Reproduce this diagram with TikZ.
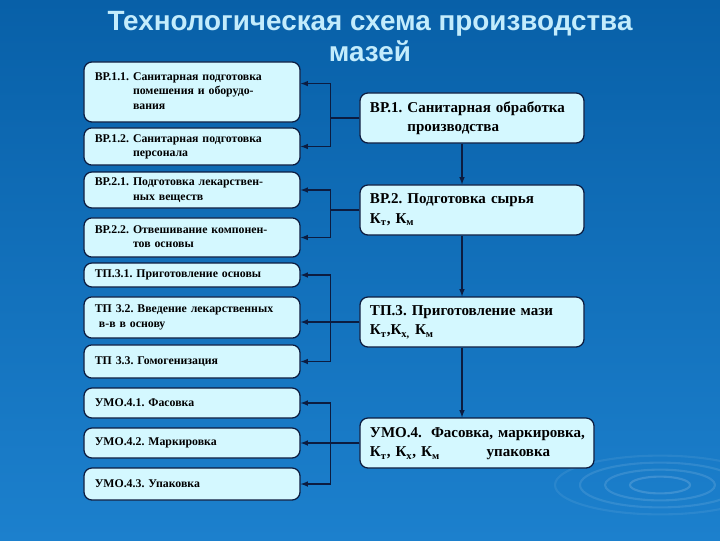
\documentclass[tikz,border=0pt]{standalone}
\usepackage{fontspec}
\setmainfont{Liberation Serif}[BoldFont={Liberation Serif Bold}]
\newfontfamily\titlefont{Liberation Sans}[BoldFont={Liberation Sans Bold}]
\usepackage{tikz}
\frenchspacing
\definecolor{bgtop}{RGB}{8,96,168}
\definecolor{bgbot}{RGB}{28,128,205}
\definecolor{boxfill}{RGB}{212,248,255}
\definecolor{boxline}{RGB}{12,28,64}
\definecolor{ttlcol}{RGB}{195,236,252}
\tikzstyle{lbox}=[draw=boxline,fill=boxfill,line width=0.9pt,rounded corners=0.2cm,text width=4.86cm,inner xsep=0.27cm,inner ysep=0pt,align=left,font=\bfseries\fontsize{8.4}{10.4}\selectfont]
\tikzstyle{rbox}=[draw=boxline,fill=boxfill,line width=0.9pt,rounded corners=0.2cm,text width=5.1cm,inner xsep=0.25cm,inner ysep=0pt,minimum height=1.25cm,align=left,font=\bfseries\fontsize{10.7}{14}\selectfont]
\tikzstyle{link}=[draw=boxline,line width=0.8pt,-latex]
\newcommand{\hang}[2]{\begin{tabular}{@{}l@{\ }l@{}}#1&#2\end{tabular}}

\begin{document}
\begin{tikzpicture}[x=0.025cm,y=-0.025cm]
\useasboundingbox (0,0) rectangle (720,540);
\shade[top color=bgtop,bottom color=bgbot] (0,0) rectangle (720,540);
\foreach \r/\o in {30/0.15,55/0.12,80/0.1,105/0.07}
  \draw[white,opacity=\o,line width=1.5pt] (660,485) ellipse ({\r} and {\r*0.28});
\node[text=ttlcol,align=center,font=\titlefont\bfseries\fontsize{19.8}{22}\selectfont] at (370,37) (ttl) {Технологическая схема производства\\мазей};
% left column
\node[lbox, minimum height=1.5cm] at (192,92) (bp11) {\hang{ВР.1.1.}{Санитарная подготовка\\&помешения и оборудо-\\&вания}};
\node[lbox, minimum height=0.93cm] at (192,146.5) (bp12) {\hang{ВР.1.2.}{Санитарная подготовка\\&персонала}};
\node[lbox, minimum height=0.9cm] at (192,190) (bp21) {\hang{ВР.2.1.}{Подготовка лекарствен-\\&ных веществ}};
\node[lbox, minimum height=0.98cm] at (192,237.5) (bp22) {\hang{ВР.2.2.}{Отвешивание компонен-\\&тов основы}};
\node[lbox, minimum height=0.6cm] at (192,275) (tp31) {ТП.3.1. Приготовление основы};
\node[lbox, minimum height=1.03cm] at (192,317.5) (tp32) {ТП 3.2. Введение лекарственных\\\hspace{3pt}в-в в основу};
\node[lbox, minimum height=0.83cm] at (192,361.5) (tp33) {ТП 3.3. Гомогенизация};
\node[lbox, minimum height=0.75cm] at (192,403) (umo41) {УМО.4.1. Фасовка};
\node[lbox, minimum height=0.75cm] at (192,443) (umo42) {УМО.4.2. Маркировка};
\node[lbox, minimum height=0.8cm] at (192,484) (umo43) {УМО.4.3. Упаковка};
% right column
\node[rbox] at (472,118) (bp1) {\hang{ВР.1.}{Санитарная обработка\\&производства}};
\node[rbox] at (472,210) (bp2) {ВР.2. Подготовка сырья\\К\textsubscript{т}, К\textsubscript{м}};
\node[rbox] at (472,322) (tp3) {ТП.3. Приготовление мази\\К\textsubscript{т},К\textsubscript{х,}~К\textsubscript{м}};
\node[rbox, text width=5.35cm] at (477,443) (umo4) {\begin{tabular}{@{}l@{}}УМО.4.\hspace{0.6em}Фасовка, маркировка,\\К\textsubscript{т}, К\textsubscript{х}, К\textsubscript{м}\hspace{3.1em}упаковка\end{tabular}};
% flow
\draw[link] ([xshift=-0.25cm]bp1.south) -- ([xshift=-0.25cm]bp2.north);
\draw[link] ([xshift=-0.25cm]bp2.south) -- ([xshift=-0.25cm]tp3.north);
\draw[link] ([xshift=-0.25cm]tp3.south) -- ([xshift=-0.25cm]tp3.south |- umo4.north);
% branches
\draw[link] (bp1.west) -- ++(-29,0) |- ([yshift=6pt]bp11.east);
\draw[link] (bp1.west) -- ++(-29,0) |- (bp12.east);
\draw[link] (bp2.west) -- ++(-29,0) |- (bp21.east);
\draw[link] (bp2.west) -- ++(-29,0) |- (bp22.east);
\draw[link] (tp3.west) -- ++(-29,0) |- (tp31.east);
\draw[link] (tp3.west) -- (tp3.west -| tp32.east);
\draw[link] (tp3.west) -- ++(-29,0) |- (tp33.east);
\draw[link] (umo4.west) -- ++(-29,0) |- (umo41.east);
\draw[link] (umo4.west) -- (umo42.east);
\draw[link] (umo4.west) -- ++(-29,0) |- (umo43.east);
\end{tikzpicture}
\end{document}
